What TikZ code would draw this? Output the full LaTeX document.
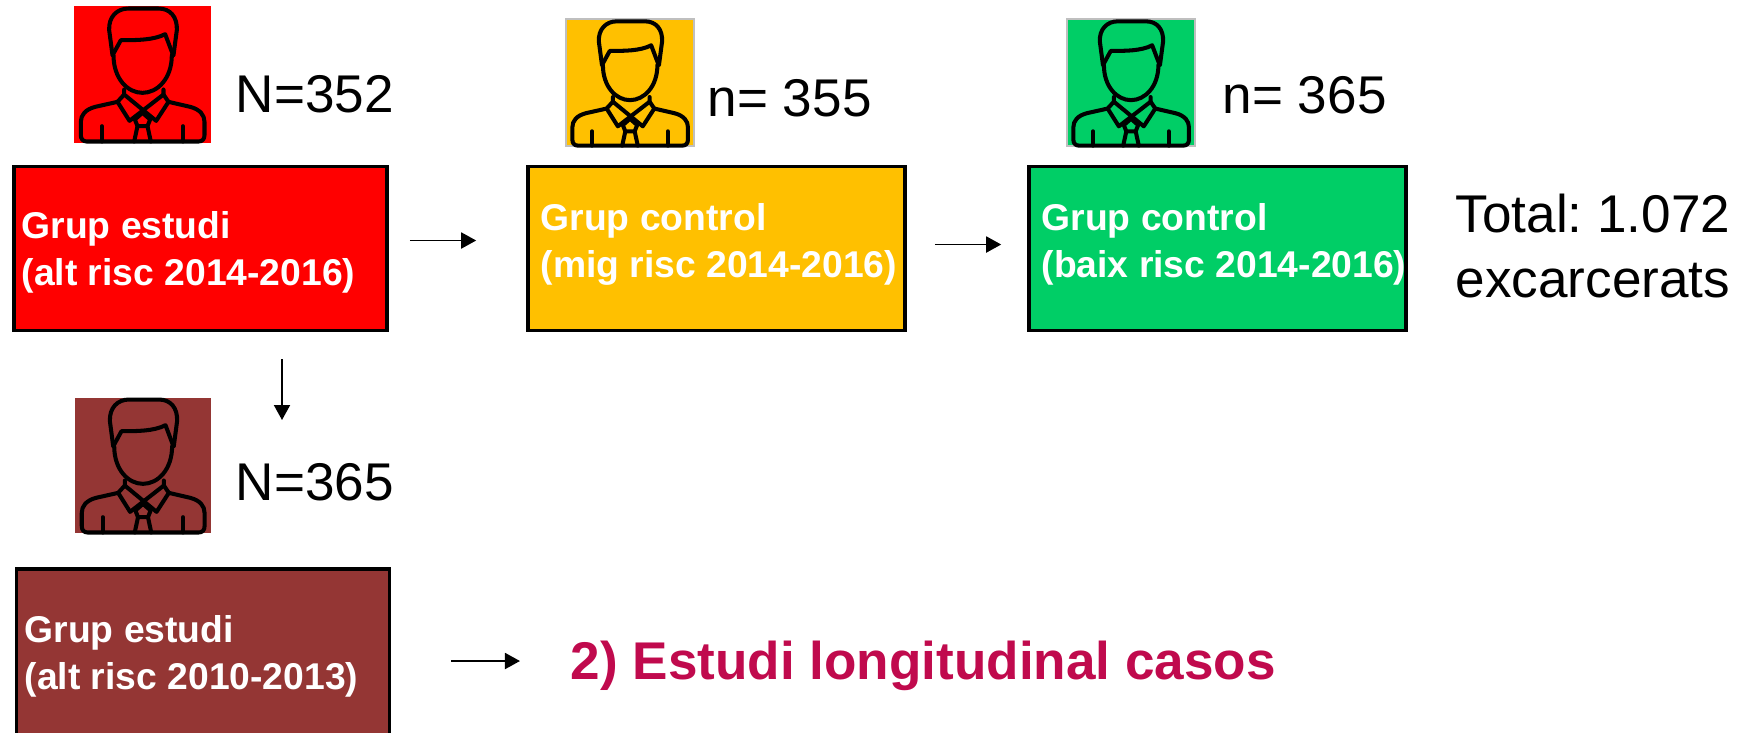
\documentclass[tikz,border=0pt]{standalone}
\usepackage{fontspec}
\setmainfont{Liberation Sans}
\frenchspacing
\usepackage{tikz}
\usetikzlibrary{calc,arrows.meta}
\definecolor{altred}{HTML}{FF0000}
\definecolor{migyellow}{HTML}{FFC000}
\definecolor{baixgreen}{HTML}{00CE66}
\definecolor{oldbrown}{HTML}{943634}
\definecolor{casoscol}{HTML}{C00A4D}
\tikzset{
    groupbox/.style={draw=black, line width=.95pt, minimum width=3.73cm, minimum height=1.64cm, inner sep=0pt},
    grouptext/.style={anchor=west, align=left, inner sep=0pt, text=white, font=\fontsize{10.6}{13.4}\selectfont\bfseries},
    count/.style={anchor=base west, inner sep=0pt, font=\fontsize{15.1}{18}\selectfont},
    flow/.style={draw=black, line width=.55pt, -{Triangle[length=.15cm,width=.16cm]}},
    person/.pic={
        \begin{scope}[shift={(-277,-223)}, line width=1.15pt, line join=round, line cap=round]
            % hair
            \draw (187,165) -- (177,90) .. controls (175,50) and (200,25) .. (235,25)
                  -- (325,25) .. controls (360,25) and (382,50) .. (380,90) -- (370,165);
            \draw (190,160) -- (212,120) .. controls (260,120) and (310,120) .. (345,102) -- (367,160);
            % face
            \draw (190,165) .. controls (190,235) and (232,278) .. (277,278)
                  .. controls (322,278) and (365,235) .. (365,165);
            % collar
            \draw (222,268) -- (222,283) -- (318,362) -- (355,305) -- (340,283) -- (340,268);
            \draw (340,283) -- (238,362) -- (202,305) -- (222,283);
            % tie
            \draw (277,338) -- (300,358) -- (292,378) -- (262,378) -- (254,358) -- cycle;
            \draw (262,378) -- (252,424) (292,378) -- (302,424);
            % shoulders
            \draw (202,305) -- (135,320) .. controls (105,328) and (92,345) .. (92,365) -- (92,405)
                  .. controls (92,416) and (98,424) .. (110,424) -- (445,424)
                  .. controls (457,424) and (463,416) .. (463,405) -- (463,365)
                  .. controls (463,345) and (450,328) .. (420,320) -- (355,305);
            \draw (155,378) -- (155,424) (398,378) -- (398,424);
        \end{scope}
    }
}
\begin{document}
\begin{tikzpicture}[x=.01cm,y=-.01cm]
    \useasboundingbox (0,0) rectangle (1748,732);
    \clip (0,0) rectangle (1748,732);
    % boxes
    \node[groupbox, fill=altred] (altbox) at (200.5,248.5) {};
    \node[groupbox, minimum width=3.77cm, fill=migyellow] (migbox) at (716.5,248.5) {};
    \node[groupbox, minimum width=3.77cm, fill=baixgreen] (baixbox) at (1217.5,248.5) {};
    % runs past the lower edge
    \node[groupbox, minimum height=1.9cm, fill=oldbrown] (oldbox) at (203,664) {};
    \node[grouptext] (alttxt) at (21,252) {Grup estudi\\(alt risc 2014-2016)};
    \node[grouptext] (migtxt) at (540,244) {Grup control\\(mig risc 2014-2016)};
    \node[grouptext] (baixtxt) at (1041,244) {Grup control\\(baix risc 2014-2016)};
    \node[grouptext] (oldtxt) at (24,656) {Grup estudi\\(alt risc 2010-2013)};
    % icons
    \fill[altred] (74,6) rectangle (211,143);
    \pic[scale=.3333] at (142.5,74.5) {person};
    \draw[black!25, fill=migyellow, line width=.4pt] (566,19) rectangle (694,146);
    \pic[scale=.3115] at (630,83) {person};
    \draw[black!25, fill=baixgreen, line width=.4pt] (1067,19) rectangle (1195,146);
    \pic[scale=.3115] at (1131,83) {person};
    \fill[oldbrown] (75,398) rectangle (211,533);
    \pic[xscale=.331, yscale=.3333] at (143,465.5) {person};
    % counts
    \node[count] (nalt) at (235,112) {N=352};
    \node[count] (nmig) at (707,116) {n= 355};
    \node[count] (nbaix) at (1222,113) {n= 365};
    \node[count] (nold) at (235,500) {N=365};
    \node[count] (total) at (1455,232) {Total: 1.072};
    \node[count] (exc) at (1455,297) {excarcerats};
    \node[anchor=base west, inner sep=0pt, text=casoscol, font=\fontsize{15.1}{18}\selectfont\bfseries] (casos) at (570,679) {2) Estudi longitudinal casos};
    % arrows
    \draw[flow, shorten <=.21cm, shorten >=.5cm] ([yshift=.08cm]altbox.east) -- ([yshift=.08cm]migbox.west);
    \draw[flow, shorten <=.28cm, shorten >=.26cm] ([yshift=.04cm]migbox.east) -- ([yshift=.04cm]baixbox.west);
    \draw[flow, shorten <=.27cm] (altbox.south -| 282,0) -- (282,420);
    \draw[flow, shorten <=.6cm, shorten >=.5cm] (oldbox.east |- 0,661) -- (casos.west |- 0,661);
\end{tikzpicture}
\end{document}
